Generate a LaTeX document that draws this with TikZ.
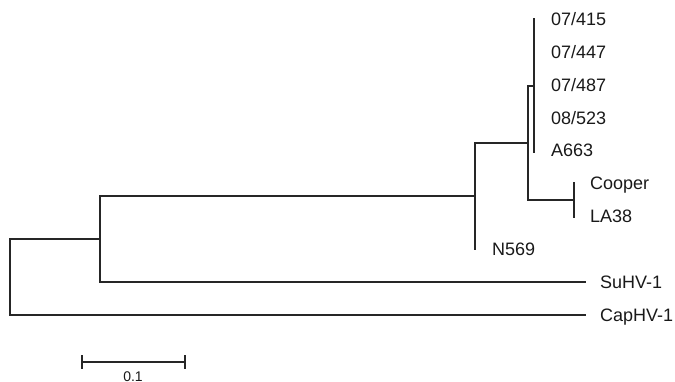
\documentclass[tikz,border=0pt]{standalone}
\usepackage{fontspec}
\setmainfont{Liberation Sans}
\begin{document}
\begin{tikzpicture}[x=1pt,y=-1pt,
  br/.style={line width=1.1pt, black!85, line cap=rect},
  leaf/.style={anchor=base west, inner sep=0pt, font=\fontsize{18}{20}\selectfont, text=black!90},
  scalelbl/.style={anchor=base, inner sep=0pt, font=\fontsize{14}{16}\selectfont, text=black!90}]
\useasboundingbox (0,0) rectangle (675,382);
% internal nodes
\coordinate (root) at (10,239);
\coordinate (n1) at (100,239);
\coordinate (n2) at (475,196);
\coordinate (n3) at (528,143);
\coordinate (n4) at (534,86);
\coordinate (n5) at (574,200);
% leaf tips
\coordinate (t1) at (534,19);
\coordinate (t2) at (534,52);
\coordinate (t3) at (534,85);
\coordinate (t4) at (534,118);
\coordinate (t5) at (534,152);
\coordinate (t6) at (574,183);
\coordinate (t7) at (574,217);
\coordinate (t8) at (475,249);
\coordinate (t9) at (585,282);
\coordinate (t10) at (585,315);
% labels
\node[leaf] (l1) at (551,25.5) {07/415};
\node[leaf] (l2) at (551,58.5) {07/447};
\node[leaf] (l3) at (551,91.5) {07/487};
\node[leaf] (l4) at (551,124.5) {08/523};
\node[leaf] (l5) at (551,157) {A663};
\node[leaf] (l6) at (590,189.5) {Cooper};
\node[leaf] (l7) at (590,222.5) {LA38};
\node[leaf] (l8) at (492,255.5) {N569};
\node[leaf] (l9) at (600,288.5) {SuHV-1};
\node[leaf] (l10) at (600,321.5) {CapHV-1};
% branches
\draw[br] (root) |- (n1);
\draw[br] (root) |- (t10);
\draw[br] (n1) |- (n2);
\draw[br] (n1) |- (t9);
\draw[br] (n2) |- (n3);
\draw[br] (n2) |- (t8);
\draw[br] (n3) |- (n4);
\draw[br] (n3) |- (n5);
\draw[br] (n4) |- (t1);
\draw[br] (n4) |- (t5);
\draw[br] (n5) |- (t6);
\draw[br] (n5) |- (t7);
% scale bar
\coordinate (s1) at (82,362);
\coordinate (s2) at (185,362);
\draw[br] (s1) -- (s2);
\draw[br] ([yshift=-6pt]s1) -- ([yshift=6pt]s1);
\draw[br] ([yshift=-6pt]s2) -- ([yshift=6pt]s2);
\node[scalelbl] (sl) at (133,381) {0.1};
\end{tikzpicture}
\end{document}
